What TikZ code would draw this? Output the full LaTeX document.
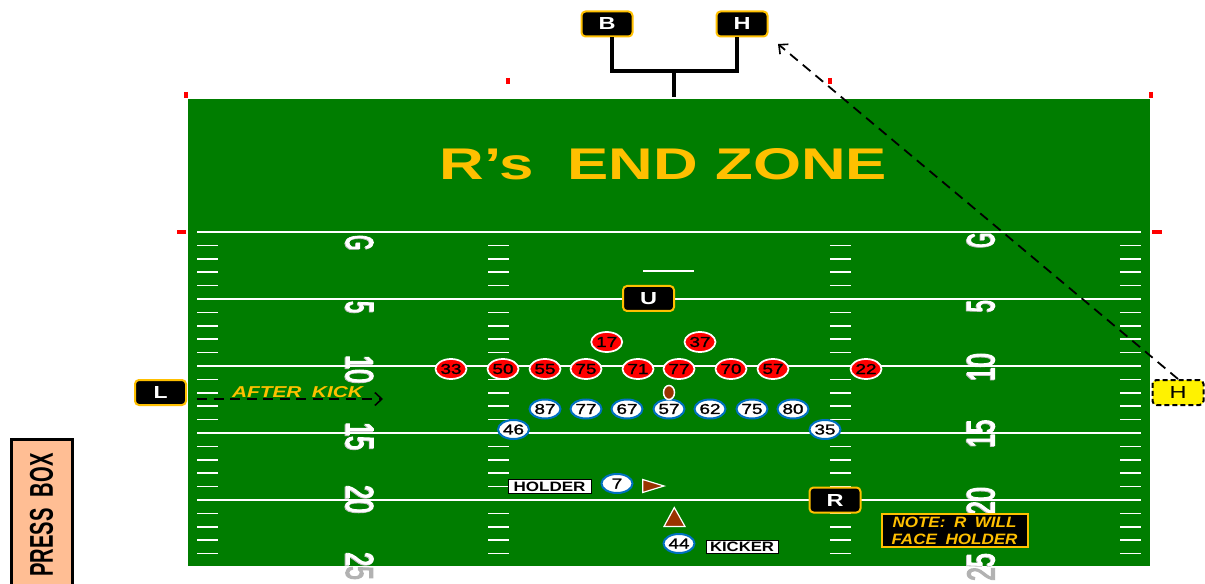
\documentclass[tikz,border=0pt]{standalone}
\usepackage{fontspec}
\usepackage{graphicx}
\setmainfont{Liberation Sans}
\newfontfamily\yardfont[FakeBold=3.5]{Liberation Sans}
\newfontfamily\numfont[FakeBold=1.2]{Liberation Sans}
\usetikzlibrary{shapes.geometric,arrows.meta}
\newdimen\pxu \pxu=0.75pt
\newcommand{\fit}[3]{\resizebox{#1\pxu}{#2\pxu}{#3}}
\definecolor{fieldgreen}{HTML}{007D00}
\definecolor{gold}{HTML}{FFC000}
\definecolor{fblue}{HTML}{0070C0}
\definecolor{pigskin}{HTML}{993300}
\definecolor{peach}{HTML}{FFBE94}
\tikzset{
 x=0.75pt,y=-0.75pt,
 official/.style={draw=gold,fill=black,rounded corners=3pt,line width=1.5pt,minimum width=38.25pt,minimum height=18.75pt,inner sep=0pt,text=white,font=\bfseries},
 defender/.style={ellipse,draw=white,fill=red,line width=1.3pt,minimum width=23.25pt,minimum height=15pt,inner sep=0pt,font=\numfont},
 offense/.style={ellipse,draw=fblue,fill=white,line width=1.5pt,minimum width=23.25pt,minimum height=14.25pt,inner sep=0pt,font=\numfont},
 tag/.style={draw=black,fill=white,line width=0.75pt,inner sep=0pt,font=\bfseries},
 yardnum/.style={inner sep=0pt,font=\yardfont},
 stemline/.style={line width=2.5pt,black},
 tick/.style={red,line width=2.5pt},
 chalk/.style={white,line width=1.25pt},
 flight/.style={black,line width=1.35pt,dash pattern=on 7.5pt off 4.9pt,-{Straight Barb[length=5.25pt,width=9.75pt,line width=1.2pt]}}
}
\begin{document}
\begin{tikzpicture}
\useasboundingbox (0,0) rectangle (1205,584);
\fill[white] (0,0) rectangle (1205,584);
% gray shadow numbers (visible below the field)
\foreach \xx/\yy/\rr/\lbl/\ww in {359.5/242.5/-90/G/15,359.5/307/-90/5/12,359.5/369/-90/10/28,359.5/436/-90/15/28,359.5/499/-90/20/28,359.5/566/-90/25/28,981/240/90/G/15,981/306/90/5/12,981/367/90/10/28,981/433.5/90/15/28,981/501/90/20/28,981/567/90/25/28}{
 \node[yardnum,text=black!30,rotate=\rr] at (\xx,\yy) {\fit{\ww}{27}{\lbl}};
}
% field
\fill[fieldgreen] (188,99) rectangle (1150,566);
\begin{scope}
\clip (188,99) rectangle (1150,566);
\foreach \xx/\yy/\rr/\lbl/\ww in {359.5/242.5/-90/G/15,359.5/307/-90/5/12,359.5/369/-90/10/28,359.5/436/-90/15/28,359.5/499/-90/20/28,359.5/566/-90/25/28,981/240/90/G/15,981/306/90/5/12,981/367/90/10/28,981/433.5/90/15/28,981/501/90/20/28,981/567/90/25/28}{
 \node[yardnum,text=black!25,rotate=\rr] at (\xx-0.8,\yy+0.8) {\fit{\ww}{27}{\lbl}};
 \node[yardnum,text=white,rotate=\rr] at (\xx,\yy) {\fit{\ww}{27}{\lbl}};
}
\end{scope}
% yard lines and hashes
\foreach \yy in {232,299,366,433,500} \draw[chalk] (197,\yy) -- (1141,\yy);
\foreach \k in {1,2,3,4,6,7,8,9,11,12,13,14,16,17,18,19,21,22,23,24}{
 \pgfmathsetmacro{\yy}{232+13.4*\k}
 \foreach \xa/\xb in {197/218,488/509,830/851,1120/1141}
  \draw[chalk] (\xa,\yy) -- (\xb,\yy);
}
\draw[chalk] (643,271) -- (694,271);
% red ticks
\draw[tick] (186,92) -- (186,98);
\draw[tick] (508,78) -- (508,84);
\draw[tick] (830,78) -- (830,84);
\draw[tick] (1151,92) -- (1151,98);
\draw[tick] (177,232) -- (186,232);
\draw[tick] (1152,232) -- (1162,232);
% title
\node[inner sep=0pt,text=gold,font=\bfseries] (title) at (663.5,164) {\fit{447}{31}{R’s\hspace{0.55em}END ZONE}};
% officials
\node[official] (B) at (607,24) {\fit{17}{12}{B}};
\node[official] (HB) at (742,24) {\fit{17}{12}{H}};
\node[official] (U) at (648.5,298.5) {\fit{17}{12}{U}};
\node[official] (R) at (835,500) {\fit{17}{12}{R}};
\node[official] (L) at (160.5,392.5) {\fit{14}{12}{L}};
\node[draw=black,fill=yellow,rounded corners=3pt,line width=1.5pt,dash pattern=on 3.75pt off 2.25pt,minimum width=38.25pt,minimum height=18.75pt,inner sep=0pt] (HL) at (1178,392.5) {\fit{17}{12}{H}};
% chain crew stem
\coordinate (stemTop) at (674,71);
\coordinate (stemFoot) at (674,97);
\draw[stemline,line join=miter] ([xshift=3.75pt]B.south) |- ([xshift=-3.75pt]HB.south |- stemTop) -- ([xshift=-3.75pt]HB.south);
\draw[stemline] (stemTop) -- (stemFoot);
% dashed movement
\coordinate (hEnd) at (778,44);
\coordinate (kickEnd) at (383,399);
\draw[flight] (HL.north) -- (hEnd);
\draw[flight] ([shift={(10,6.5)}]L.east) -- (kickEnd);
\node[inner sep=0pt,text=gold,font=\bfseries\itshape] (after) at (297.5,392) {\fit{131}{11}{AFTER\hspace{0.5em}KICK}};
% defense
\foreach \nm/\xx/\yy/\lbl in {d33/451/369/33,d50/503/369/50,d55/545/369/55,d75/586/369/75,d71/638/369/71,d77/679/369/77,d70/731/369/70,d57/773/369/57,d22/866/369/22,d17/606.7/342/17,d37/700/342/37}
 \node[defender] (\nm) at (\xx,\yy) {\fit{21}{10}{\lbl}};
% offense
\foreach \nm/\xx/\yy/\lbl in {o87/545/409/87,o77/586/409/77,o67/627/409/67,o57/669/409/57,o62/710/409/62,o75/752/409/75,o80/793/409/80,o46/513.5/429.5/46,o35/825/429.5/35,o44/679/543.5/44}
 \node[offense] (\nm) at (\xx,\yy) {\fit{21}{10}{\lbl}};
\node[offense] (o7) at (617,483.5) {\fit{10.5}{10}{7}};
% ball and tees
\node[ellipse,draw=white,fill=pigskin,line width=1.125pt,minimum width=8.25pt,minimum height=10.5pt,inner sep=0pt] (ball) at (669,392.5) {};
\filldraw[fill=pigskin,draw=white,line width=0.9pt,line join=miter] (642.7,479.5) -- (642.7,492.5) -- (664,486) -- cycle;
\filldraw[fill=pigskin,draw=white,line width=0.9pt,line join=miter] (674.3,507.5) -- (664,526.5) -- (685,526.5) -- cycle;
% tags
\node[tag,minimum width=62.25pt,minimum height=10.5pt] (holder) at (549.5,486.5) {\fit{72}{9.5}{HOLDER}};
\node[tag,minimum width=54pt,minimum height=9.75pt] (kicker) at (742,546.5) {\fit{64}{9.5}{KICKER}};
% note
\node[draw=gold,fill=black,line width=1.5pt,minimum width=109.5pt,minimum height=24.75pt,inner sep=0pt,text=gold,align=center,font=\fontsize{12}{12.5}\selectfont\bfseries\itshape] (note) at (954.5,530.5) {\fit{124}{10.5}{NOTE:\hspace{0.5em}R\hspace{0.5em}WILL}\\[0pt]\fit{126}{10.5}{FACE\hspace{0.5em}HOLDER}};
% press box
\node[draw=black,fill=peach,line width=2.25pt,rotate=90,minimum width=114pt,minimum height=45.75pt,inner sep=0pt,font=\bfseries] (press) at (41.5,515) {\fit{123}{23}{PRESS\hspace{0.55em}BOX}};
\end{tikzpicture}
\end{document}
